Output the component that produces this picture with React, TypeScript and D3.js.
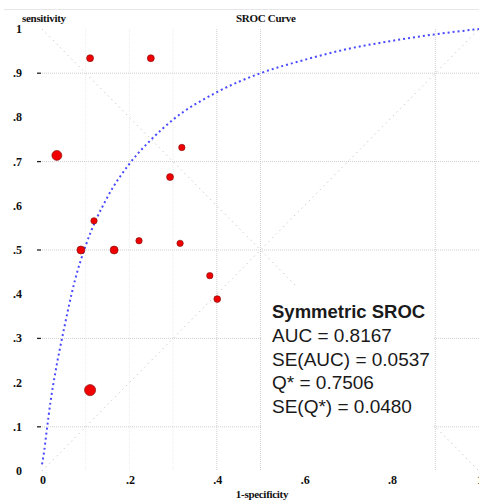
import React from 'react';
import * as d3 from 'd3';

// study points (1-specificity, sensitivity)
const studyFpr = [0.11, 0.249, 0.034, 0.32, 0.293, 0.119, 0.089, 0.165, 0.222, 0.316, 0.384, 0.401, 0.11];
const studyTpr = [0.934, 0.934, 0.714, 0.732, 0.665, 0.566, 0.5, 0.5, 0.521, 0.515, 0.442, 0.389, 0.183];
const studyWeight = [3.5, 3.5, 5, 3.2, 3.5, 3.2, 4, 4, 3.2, 3.2, 3.2, 3.4, 5.6];

// symmetric SROC curve
const curveFpr = [0, 0.005, 0.01, 0.02, 0.03, 0.05, 0.075, 0.1, 0.15, 0.2, 0.25, 0.3, 0.4, 0.5, 0.6, 0.7, 0.8, 0.9, 1];
const curveTpr = [0.015, 0.045, 0.085, 0.16, 0.22, 0.32, 0.43, 0.51, 0.62, 0.695, 0.75, 0.795, 0.857, 0.9, 0.93, 0.955, 0.973, 0.988, 1];

const yTicks = [1, 0.9, 0.8, 0.7, 0.6, 0.5, 0.4, 0.3, 0.2, 0.1, 0];
const yTickLabels = ['1', '.9', '.8', '.7', '.6', '.5', '.4', '.3', '.2', '.1', '0'];
const xTicks = [0, 0.2, 0.4, 0.6, 0.8, 1];
const xTickLabels = ['0', '.2', '.4', '.6', '.8', '1'];
const hGrid = [0.9, 0.7, 0.5, 0.3, 0.1];
const vGridFaint = [0.1, 0.2, 0.3];
const vGrid = [0.4, 0.5, 0.9];

const statLines = ['AUC = 0.8167', 'SE(AUC) = 0.0537', 'Q* = 0.7506', 'SE(Q*) = 0.0480'];

const W = 479;
const H = 504;

export default function App() {
  const x = d3.scaleLinear().domain([0, 1]).range([42, 479]);
  const y = d3.scaleLinear().domain([0, 1]).range([471, 29]);

  const curve = d3
    .line<number>()
    .x((d) => x(d))
    .y((_, i) => y(curveTpr[i]))
    .curve(d3.curveMonotoneX)(curveFpr);

  const serif = '"Liberation Serif", "Times New Roman", serif';
  const sans = '"Liberation Sans", Arial, sans-serif';

  return (
    <svg width={W} height={H} style={{ position: 'absolute', left: 0, top: 0, background: '#fff' }}>
      <rect width={W} height={H} fill="#fff" />
      <line x1={4} x2={W} y1={9.5} y2={9.5} stroke="#e6e6e6" />

      {/* grid */}
      {vGridFaint.map((v) => (
        <line key={'vf' + v} x1={x(v)} x2={x(v)} y1={y(1)} y2={y(0)} stroke="#ececec" strokeDasharray="1,1" />
      ))}
      {vGrid.map((v) => (
        <line key={'v' + v} x1={x(v)} x2={x(v)} y1={y(1)} y2={y(0)} stroke="#cfcfcf" strokeDasharray="1,1" />
      ))}
      {hGrid.map((v) => (
        <g key={'h' + v}>
          <line x1={x(0)} x2={W} y1={y(v)} y2={y(v)} stroke="#cfcfcf" strokeDasharray="1,1" />
          <line x1={37} x2={41} y1={y(v)} y2={y(v)} stroke="#222" strokeWidth={1.3} />
        </g>
      ))}

      {/* diagonals */}
      <line x1={x(0)} y1={y(1)} x2={x(1)} y2={y(0)} stroke="#c4c4c4" strokeDasharray="1.2,4" />
      <line x1={x(0)} y1={y(0)} x2={x(1)} y2={y(1)} stroke="#c4c4c4" strokeDasharray="1.2,4" />

      {/* stats box */}
      <rect x={262} y={285} width={172} height={148} fill="#fff" />

      {/* SROC curve */}
      <path d={curve ?? ''} fill="none" stroke="#4a4aff" strokeWidth={2} strokeDasharray="2,3" />

      {/* studies */}
      {studyFpr.map((v, i) => (
        <circle key={i} cx={x(v)} cy={y(studyTpr[i])} r={studyWeight[i]} fill="#f00000" stroke="#7a1010" strokeWidth={0.6} />
      ))}

      {/* axes text */}
      <g fontFamily={serif} fontWeight="bold" fontSize={12} fill="#111">
        {yTicks.map((v, i) => (
          <text key={'yt' + v} x={22} y={y(v) + 4} textAnchor="end">
            {yTickLabels[i]}
          </text>
        ))}
        {xTicks.map((v, i) => (
          <text key={'xt' + v} x={x(v) + 1} y={484} textAnchor="middle">
            {xTickLabels[i]}
          </text>
        ))}
      </g>
      <g fontFamily={serif} fontWeight="bold" fontSize={11} fill="#111">
        <text x={22} y={22} letterSpacing={-0.3}>sensitivity</text>
        <text x={236} y={22} letterSpacing={-0.3}>SROC Curve</text>
        <text x={262} y={498} textAnchor="middle" letterSpacing={-0.3}>1-specificity</text>
      </g>

      <g fontFamily={sans} fill="#1a1a1a">
        <text x={272} y={318} fontSize={18.5} fontWeight="bold">Symmetric SROC</text>
        {statLines.map((s, i) => (
          <text key={s} x={272} y={342 + i * 23.7} fontSize={19}>
            {s}
          </text>
        ))}
      </g>
    </svg>
  );
}
